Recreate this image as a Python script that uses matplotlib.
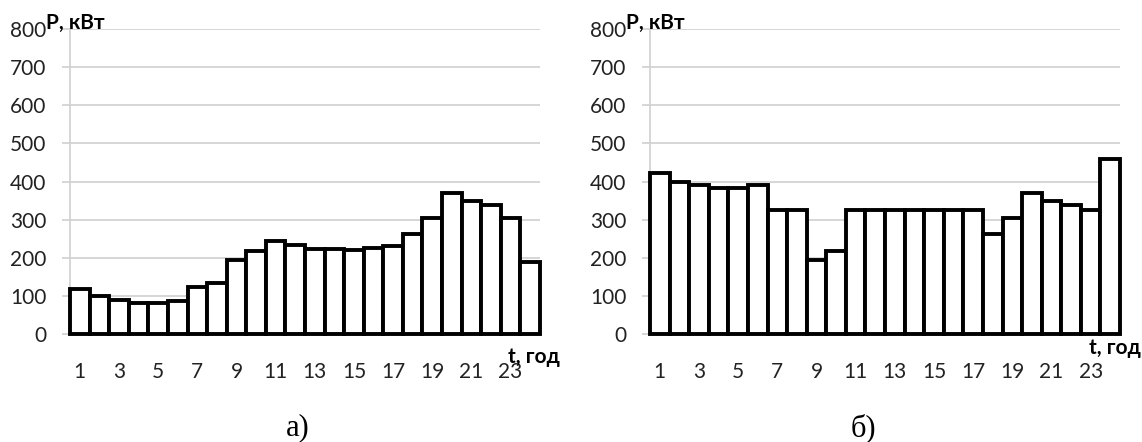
import matplotlib.pyplot as plt
import numpy as np

plt.rcParams['font.family'] = ['Lato', 'DejaVu Sans']

# hours 1..24
hours = np.arange(1, 25)
# load, kW — variant а)
load_a = [119, 99, 89, 82, 82, 86, 123, 134, 193, 217, 244, 233,
          222, 222, 221, 225, 231, 261, 305, 371, 349, 338, 305, 189]
# load, kW — variant б)
load_b = [422, 400, 391, 382, 382, 390, 325, 325, 194, 218, 325, 325,
          325, 325, 325, 325, 325, 261, 305, 371, 349, 338, 325, 459]
yticks = np.arange(0, 801, 100)
xtick_labels = [str(h) for h in range(1, 24, 2)]
captions = ['а)', 'б)']

W, H = 1142, 442
fig = plt.figure(figsize=(W / 100, H / 100), dpi=100)
lefts = [70 / W, 650 / W]
grid_c = '#d0d0d0'

# x-label placement (pixels) and caption centres
tlabel_pos = [(508, 357, 'left'), (1141, 348, 'right')]
cap_pos = [(298, 428), (863, 428)]

for i, (data, cap) in enumerate(zip([load_a, load_b], captions)):
    ax = fig.add_axes([lefts[i], 1 - 334 / H, 470 / W, 305 / H])
    ax.bar(hours, data, width=1.0, color='white', edgecolor='black',
           linewidth=2.8, zorder=3, clip_on=False)
    ax.set_xlim(0.5, 24.5)
    ax.set_ylim(0, 800)
    ax.set_yticks(yticks)
    ax.set_xticks(range(1, 24, 2))
    ax.set_xticklabels(xtick_labels)
    ax.grid(axis='y', color=grid_c, linewidth=1.2, zorder=0)
    for s in ['top', 'right']:
        ax.spines[s].set_visible(False)
    ax.spines['left'].set_color(grid_c)
    ax.spines['left'].set_linewidth(1.2)
    ax.spines['bottom'].set_color('#404040')
    ax.spines['bottom'].set_linewidth(1.5)
    ax.tick_params(axis='y', length=6, color=grid_c, width=1.2, pad=11,
                   labelsize=15, labelcolor='#222222')
    ax.tick_params(axis='x', length=0, pad=20, labelsize=15,
                   labelcolor='#222222')
    ax.text(-0.05, 1.02, 'P, кВт', transform=ax.transAxes, fontsize=15,
            fontweight='bold', ha='left', va='center')
    tx, ty, tha = tlabel_pos[i]
    fig.text(tx / W, 1 - ty / H, 't, год', fontsize=15, fontweight='bold',
             ha=tha, va='center')
    cx, cy = cap_pos[i]
    fig.text(cx / W, 1 - cy / H, cap, fontsize=22, family='Liberation Serif',
             ha='center', va='center')

fig.savefig('out.png', dpi=100)
